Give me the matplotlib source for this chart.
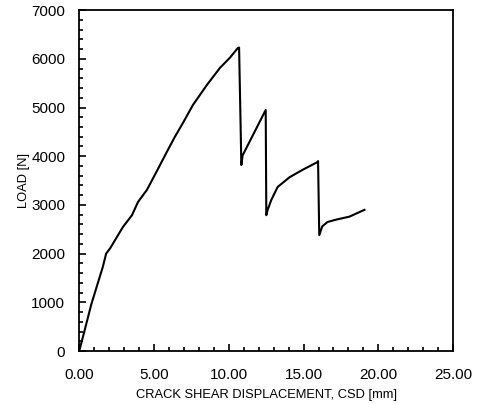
import numpy as np
import matplotlib
matplotlib.use("Agg")
import matplotlib.pyplot as plt
from matplotlib.ticker import MultipleLocator

# load vs crack shear displacement
csd = [0.0, 0.3, 0.8, 1.2, 1.58, 1.8, 2.07, 2.4, 2.93, 3.53, 3.93, 4.53, 5.2, 5.93,
       6.4, 6.93, 7.6, 8.53, 9.4, 10.07, 10.6, 10.69,
       10.8, 10.84, 10.93, 12.47,
       12.51, 12.6, 12.84, 13.27, 14.07, 14.93, 15.93,
       15.97, 16.05, 16.25, 16.6, 17.2, 18.07, 19.07]
load = [0, 350, 950, 1350, 1730, 2000, 2110, 2280, 2550, 2790, 3060, 3310, 3700, 4130,
        4400, 4680, 5050, 5460, 5810, 6020, 6220, 6230,
        4500, 3820, 4020, 4950,
        2790, 2900, 3100, 3370, 3570, 3720, 3880,
        3900, 2380, 2560, 2650, 2700, 2760, 2900]

x_ticks = [0, 5, 10, 15, 20, 25]
x_labels = ["0.00", "5.00", "10.00", "15.00", "20.00", "25.00"]
y_ticks = [0, 1000, 2000, 3000, 4000, 5000, 6000, 7000]

plt.rcParams['font.family'] = ['Liberation Sans', 'DejaVu Sans']

fig = plt.figure(figsize=(4.8, 4.04), dpi=100)
ax = fig.add_axes([0.165, 0.131, 0.779, 0.844])

ax.plot(csd, load, color='black', lw=1.5)

ax.set_xlim(0, 25)
ax.set_ylim(0, 7000)
ax.set_xticks(x_ticks)
ax.set_xticklabels(x_labels)
ax.set_yticks(y_ticks)
ax.xaxis.set_minor_locator(MultipleLocator(1))
ax.yaxis.set_minor_locator(MultipleLocator(200))
ax.tick_params(which='both', direction='in', top=False, right=False,
               labelsize=11, width=1.2)
ax.tick_params(axis='x', which='major', pad=12)
ax.tick_params(axis='y', which='major', pad=10)
ax.tick_params(which='major', length=5)
ax.tick_params(which='minor', length=3)

for s in ax.spines.values():
    s.set_linewidth(1.3)

ax.set_xlabel("CRACK SHEAR DISPLACEMENT, CSD [mm]", fontsize=9.3, labelpad=5)
ax.set_ylabel("LOAD [N]", fontsize=9.3, labelpad=1)

fig.savefig("out.png", dpi=100)
